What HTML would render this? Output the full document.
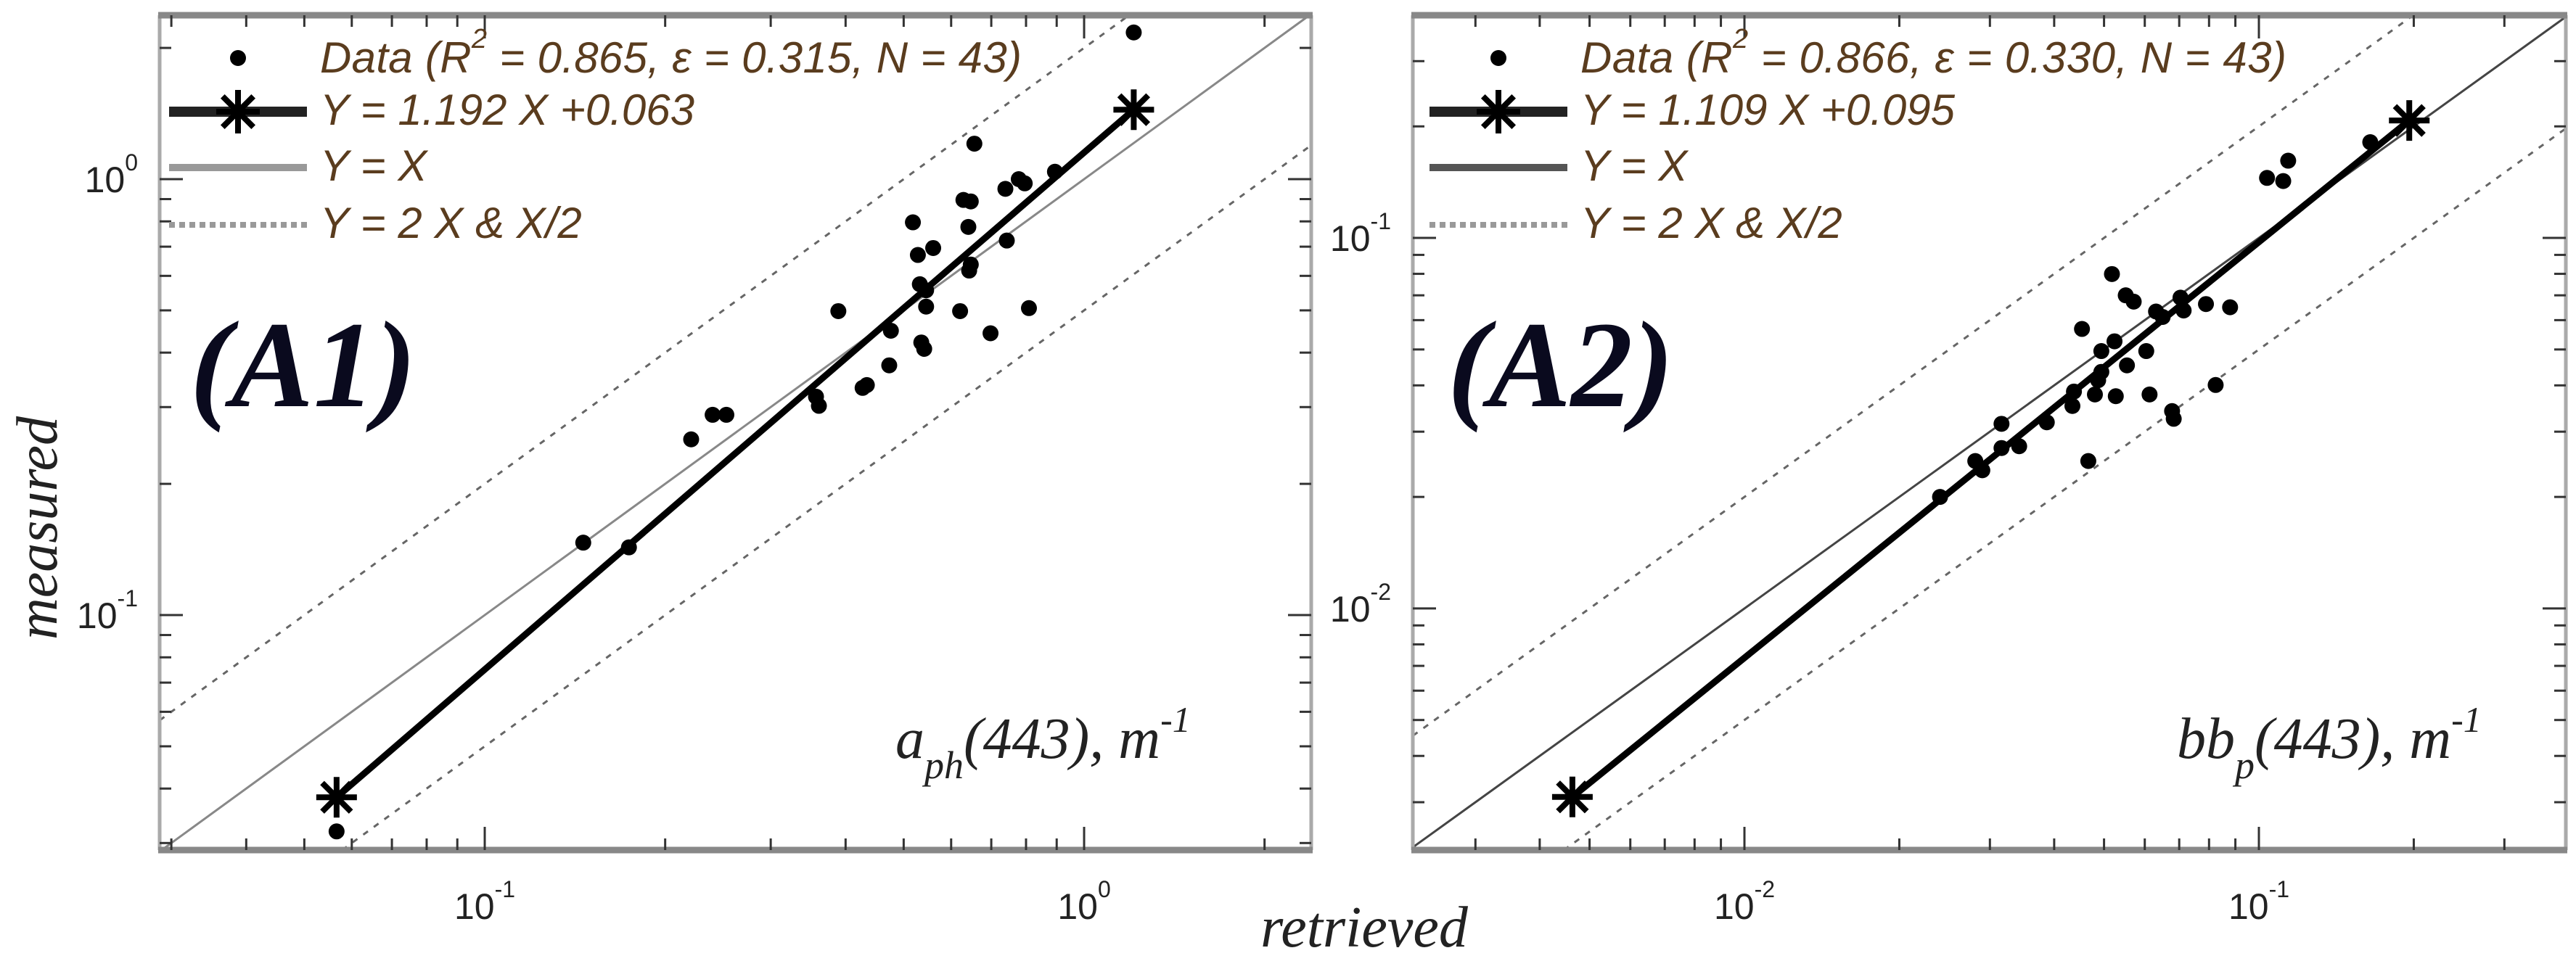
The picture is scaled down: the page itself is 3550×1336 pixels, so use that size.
<!DOCTYPE html>
<html><head><meta charset="utf-8"><style>
html,body{margin:0;padding:0;background:#fff;width:3550px;height:1336px;overflow:hidden;}
svg{display:block;}
.tick{font-family:"Liberation Sans",sans-serif;font-size:50px;fill:#222;}
.leg{font-family:"Liberation Sans",sans-serif;font-style:italic;font-size:60px;fill:#5a3c1e;}
.ax{font-family:"Liberation Serif",serif;font-style:italic;font-size:80px;fill:#222;}
.lab{font-family:"Liberation Serif",serif;font-style:italic;font-weight:bold;font-size:170px;fill:#0a0a1e;}
</style></head><body>
<svg id="chart" width="3550" height="1336" viewBox="0 0 3550 1336" xmlns="http://www.w3.org/2000/svg" overflow="hidden">
<rect width="3550" height="1336" fill="#fff"/>
<text class="ax" x="0" y="0" transform="translate(78,728) rotate(-90)" text-anchor="middle" font-size="84">measured</text>
<text class="ax" x="1880" y="1305" text-anchor="middle" font-size="84">retrieved</text>
</svg>
<script>
// Panel A1 data (a_ph(443))
const a1X = [1.21,0.656,0.778,0.796,0.739,0.629,0.647,0.518,0.641,0.743,0.56,0.528,0.647,0.643,0.532,0.545,0.389,0.545,0.621,0.809,0.698,0.476,0.535,0.541,0.473,0.434,0.427,0.357,0.361,0.240,0.253,0.221,0.146,0.174,0.0566,0.894];
const a1Y = [2.17,1.206,1.0,0.978,0.95,0.896,0.889,0.796,0.777,0.723,0.695,0.67,0.637,0.617,0.574,0.556,0.498,0.51,0.498,0.506,0.443,0.449,0.422,0.408,0.374,0.337,0.332,0.317,0.302,0.288,0.288,0.253,0.1466,0.143,0.0319,1.04];
const a1FitX = [0.0566,1.21];
const a1FitY = [0.0382,1.443];
// Panel A2 data (bb_p(443))
const a2X = [0.114,0.1037,0.1115,0.1646,0.0518,0.0551,0.0571,0.0631,0.065,0.0704,0.0714,0.0789,0.0879,0.0453,0.0524,0.0494,0.0604,0.0554,0.0494,0.0487,0.0437,0.048,0.0527,0.0613,0.0434,0.0824,0.0678,0.0683,0.0387,0.0316,0.0342,0.0316,0.0281,0.029,0.0466,0.024];
const a2Y = [0.1616,0.1452,0.1424,0.1813,0.0799,0.070,0.0673,0.0633,0.0612,0.069,0.0637,0.0663,0.065,0.0568,0.0526,0.0495,0.0495,0.0453,0.0435,0.0413,0.0385,0.0378,0.0374,0.0378,0.0352,0.0401,0.0341,0.0325,0.0318,0.0315,0.0274,0.0271,0.025,0.0236,0.025,0.020];
const a2FitX = [0.00463,0.196];
const a2FitY = [0.0031,0.2075];
const a1Legend = ["Data (R² = 0.865, ε = 0.315, N = 43)","Y = 1.192 X +0.063","Y = X","Y = 2 X & X/2"];
const a2Legend = ["Data (R² = 0.866, ε = 0.330, N = 43)","Y = 1.109 X +0.095","Y = X","Y = 2 X & X/2"];

const NS="http://www.w3.org/2000/svg";
const svg=document.getElementById('chart');
function mk(tag,attrs,parent){const e=document.createElementNS(NS,tag);for(const k in attrs)e.setAttribute(k,attrs[k]);(parent||svg).appendChild(e);return e;}

function panel(cfg){
  const g=mk('g',{});
  
  
  const {x0,x1,y0,y1,lx0,lx1,ly0,ly1}=cfg;
  const sx=v=>x0+(Math.log10(v)-lx0)/(lx1-lx0)*(x1-x0);
  const sy=v=>y1-(Math.log10(v)-ly0)/(ly1-ly0)*(y1-y0);
  // reference line y = k*x clipped analytically to domain
  function refLine(k,attrs,name){
    const lk=Math.log10(k);
    const a=Math.max(lx0,ly0-lk), b=Math.min(lx1,ly1-lk);
    if(b<=a) return;
    const va=Math.pow(10,a), vb=Math.pow(10,b);
    const l=mk('line',Object.assign({x1:sx(va),y1:sy(k*va),x2:sx(vb),y2:sy(k*vb)},attrs),g);
    
    
  }
  refLine(1,{stroke:cfg.idColor,'stroke-width':3},'one-to-one-line');
  refLine(2,{stroke:'#666','stroke-width':3,'stroke-dasharray':'8 10'},'two-x-line');
  refLine(0.5,{stroke:'#666','stroke-width':3,'stroke-dasharray':'8 10'},'half-x-line');
  const fl=mk('line',{x1:sx(cfg.fitX[0]),y1:sy(cfg.fitY[0]),x2:sx(cfg.fitX[1]),y2:sy(cfg.fitY[1]),stroke:'#000','stroke-width':9},g);
  
  
  for(let i=0;i<2;i++){
    const s=star(sx(cfg.fitX[i]),sy(cfg.fitY[i]),28,g);
    
    
  }
  for(let i=0;i<cfg.X.length;i++){
    const c=mk('circle',{cx:sx(cfg.X[i]),cy:sy(cfg.Y[i]),r:11,fill:'#000'},g);
    
    
  }
  mk('line',{x1:x0,y1:y0,x2:x0,y2:y1,stroke:'#aaa','stroke-width':5},g);
  mk('line',{x1:x1,y1:y0,x2:x1,y2:y1,stroke:'#aaa','stroke-width':5},g);
  mk('line',{x1:x0-2,y1:y0,x2:x1+2,y2:y0,stroke:'#888','stroke-width':9},g);
  mk('line',{x1:x0-2,y1:y1,x2:x1+2,y2:y1,stroke:'#888','stroke-width':9},g);
  for(let d=Math.floor(lx0);d<=Math.ceil(lx1);d++){
    for(let m=1;m<10;m++){
      const v=m*Math.pow(10,d),lv=Math.log10(v);
      if(lv<lx0||lv>lx1)continue;
      const px=sx(v),L=m===1?32:16;
      mk('line',{x1:px,y1:y1,x2:px,y2:y1-L,stroke:'#333','stroke-width':3},g);
      mk('line',{x1:px,y1:y0,x2:px,y2:y0+L,stroke:'#333','stroke-width':3},g);
      if(m===1){
        const t=mk('text',{x:px,y:y1+95,class:'tick','text-anchor':'middle'},g);
        
        
        t.innerHTML='10<tspan font-size="32" dy="-30">'+d+'</tspan>';
      }
    }
  }
  for(let d=Math.floor(ly0);d<=Math.ceil(ly1);d++){
    for(let m=1;m<10;m++){
      const v=m*Math.pow(10,d),lv=Math.log10(v);
      if(lv<ly0||lv>ly1)continue;
      const py=sy(v),L=m===1?32:16;
      mk('line',{x1:x0,y1:py,x2:x0+L,y2:py,stroke:'#333','stroke-width':3},g);
      mk('line',{x1:x1,y1:py,x2:x1-L,y2:py,stroke:'#333','stroke-width':3},g);
      if(m===1){
        const t=mk('text',{x:x0-30,y:py+18,class:'tick','text-anchor':'end'},g);
        
        
        t.innerHTML='10<tspan font-size="32" dy="-30">'+d+'</tspan>';
      }
    }
  }
  const lg=mk('g',{},g);
  
  
  const rows=[100,172,249,328], mx=cfg.legX, ls=mx-95, le=mx+95, tx=mx+113;
  mk('circle',{cx:mx,cy:rows[0]-20,r:11,fill:'#000'},lg);
  mk('line',{x1:ls,y1:rows[1]-18,x2:le,y2:rows[1]-18,stroke:'#222','stroke-width':14},lg);
  star(mx,rows[1]-18,30,lg);
  mk('line',{x1:ls,y1:rows[2]-18,x2:le,y2:rows[2]-18,stroke:cfg.legIdColor,'stroke-width':10},lg);
  mk('line',{x1:ls,y1:rows[3]-18,x2:le,y2:rows[3]-18,stroke:'#999','stroke-width':8,'stroke-dasharray':'8 6'},lg);
  for(let i=0;i<4;i++){
    const t=mk('text',{x:tx,y:rows[i],class:'leg'},lg);
    
    
    if(i===0){
      const parts=cfg.legend[0].split('²');
      t.innerHTML=parts[0]+'<tspan font-size="38" dy="-34">2</tspan><tspan dy="34">'+parts[1]+'</tspan>';
      t.setAttribute('textLength',cfg.legW);
    } else t.textContent=cfg.legend[i];
  }
  const lb=mk('text',{x:cfg.labX,y:560,class:'lab'},g);
  
  
  lb.textContent=cfg.label;
  const q=mk('text',{x:cfg.qX,y:1045,class:'ax'},g);
  
  
  q.innerHTML=cfg.q;
}
function star(cx,cy,r,parent){
  const g=mk('g',{},parent);
  for(let k=0;k<4;k++){const a=k*Math.PI/4;
    mk('line',{x1:cx-r*Math.cos(a),y1:cy-r*Math.sin(a),x2:cx+r*Math.cos(a),y2:cy+r*Math.sin(a),stroke:'#000','stroke-width':8},g);}
  return g;
}
panel({id:1,name:'panel-a1',x0:220,x1:1807,y0:21,y1:1172,lx0:-1.5424,lx1:0.3789,ly0:-1.539,ly1:0.376,
  X:a1X,Y:a1Y,fitX:a1FitX,fitY:a1FitY,idColor:'#888',legIdColor:'#999',legend:a1Legend,legX:328,legW:967,
  label:'(A1)',labX:262,qX:1234,q:'a<tspan font-size="54" dy="28">ph</tspan><tspan dy="-28">(443), m</tspan><tspan font-size="50" dy="-36">-1</tspan>'});
panel({id:2,name:'panel-a2',x0:1947,x1:3536,y0:21,y1:1172,lx0:-2.6446,lx1:-0.4034,ly0:-2.652,ly1:-0.399,
  X:a2X,Y:a2Y,fitX:a2FitX,fitY:a2FitY,idColor:'#444',legIdColor:'#555',legend:a2Legend,legX:2065,legW:973,
  label:'(A2)',labX:1995,qX:3000,q:'bb<tspan font-size="54" dy="28">p</tspan><tspan dy="-28">(443), m</tspan><tspan font-size="50" dy="-36">-1</tspan>'});
</script>
</body></html>
